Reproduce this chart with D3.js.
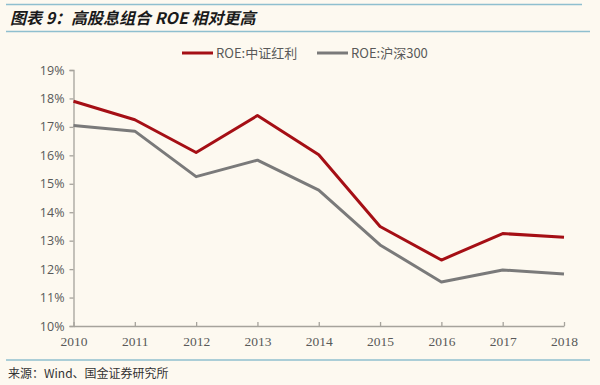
<!DOCTYPE html>
<html>
<head>
<meta charset="utf-8">
<script src="https://cdn.jsdelivr.net/npm/d3@7"></script>
<style>
  body { margin: 0; background: #fdf9f0; }
  svg { display: block; }
</style>
</head>
<body>
<div id="canvas"></div>
<script>
// data
const years = ["2010", "2011", "2012", "2013", "2014", "2015", "2016", "2017", "2018"];
const roeDividend = [17.9, 17.25, 16.1, 17.4, 16.02, 13.5, 12.32, 13.25, 13.12];
const roeHS300 = [17.05, 16.85, 15.25, 15.83, 14.78, 12.85, 11.55, 11.97, 11.83];
const seriesNames = ["ROE:中证红利", "ROE:沪深300"];
const yTicks = [10, 11, 12, 13, 14, 15, 16, 17, 18, 19];

const W = 600, H = 385;
const margin = {top: 70, right: 36, bottom: 59, left: 73.5};

const svg = d3.select("#canvas")
  .append("svg")
  .attr("width", W)
  .attr("height", H);

svg.append("rect").attr("width", W).attr("height", H).attr("fill", "#fdf9f0");

// title + rules
svg.append("line").attr("x1", 6).attr("x2", 582).attr("y1", 4.5).attr("y2", 4.5)
  .attr("stroke", "#8fbfcf").attr("stroke-width", 1.5);
svg.append("text")
  .attr("x", 10).attr("y", 24)
  .attr("font-family", "Noto Sans CJK SC")
  .attr("font-size", 16).attr("font-weight", "bold").attr("font-style", "italic")
  .attr("fill", "#1a1a1a")
  .text("图表 9：高股息组合 ROE 相对更高");
svg.append("line").attr("x1", 6).attr("x2", 590).attr("y1", 31.5).attr("y2", 31.5)
  .attr("stroke", "#8fbfcf").attr("stroke-width", 1.5);

// scales
const x = d3.scalePoint()
  .domain(years)
  .range([margin.left, W - margin.right]);

const y = d3.scaleLinear()
  .domain([10, 19])
  .range([H - margin.bottom, margin.top]);

const axisColor = "#a6a39c";
const labelColor = "#595959";

// y axis
const yAxis = svg.append("g")
  .attr("transform", "translate(" + margin.left + ",0)")
  .call(d3.axisLeft(y).tickValues(yTicks).tickSize(4).tickPadding(5).tickFormat(d => d + "%"));
yAxis.select(".domain").attr("stroke", axisColor).attr("stroke-width", 1.3);
yAxis.selectAll(".tick line").attr("stroke", axisColor).attr("stroke-width", 1.3);
yAxis.selectAll("text")
  .attr("fill", labelColor)
  .attr("font-family", "Open Sans")
  .attr("font-size", 12.5);

// x axis
const xAxis = svg.append("g")
  .attr("transform", "translate(0," + (H - margin.bottom) + ")")
  .call(d3.axisBottom(x).tickSizeInner(-4).tickSizeOuter(0).tickPadding(10));
xAxis.select(".domain").attr("stroke", axisColor).attr("stroke-width", 1.3);
xAxis.selectAll(".tick line").attr("stroke", axisColor).attr("stroke-width", 1.3);
xAxis.selectAll("text")
  .attr("fill", labelColor)
  .attr("font-family", "Liberation Serif")
  .attr("font-size", 13.5);

// lines
const colours = ["#a50f15", "#7a7a7a"];
const line = d3.line()
  .x((d, i) => x(years[i]))
  .y(d => y(d));

[roeHS300, roeDividend].forEach((series, k) => {
  svg.append("path")
    .datum(series)
    .attr("fill", "none")
    .attr("stroke", k === 0 ? colours[1] : colours[0])
    .attr("stroke-width", 3)
    .attr("stroke-linejoin", "round")
    .attr("d", line);
});

// legend
const legendX = [182, 317];
seriesNames.forEach((name, i) => {
  svg.append("line")
    .attr("x1", legendX[i]).attr("x2", legendX[i] + 31)
    .attr("y1", 53).attr("y2", 53)
    .attr("stroke", colours[i]).attr("stroke-width", 3);
  svg.append("text")
    .attr("x", legendX[i] + 34).attr("y", 57.5)
    .attr("font-family", "Noto Sans CJK SC")
    .attr("font-size", 13)
    .attr("fill", labelColor)
    .text(name);
});

// footer
svg.append("line").attr("x1", 6).attr("x2", 590).attr("y1", 360).attr("y2", 360)
  .attr("stroke", "#8fbfcf").attr("stroke-width", 1.5);
svg.append("text")
  .attr("x", 8).attr("y", 378)
  .attr("font-family", "Noto Sans CJK SC")
  .attr("font-size", 12)
  .attr("fill", "#333")
  .text("来源：Wind、国金证券研究所");
</script>
</body>
</html>
